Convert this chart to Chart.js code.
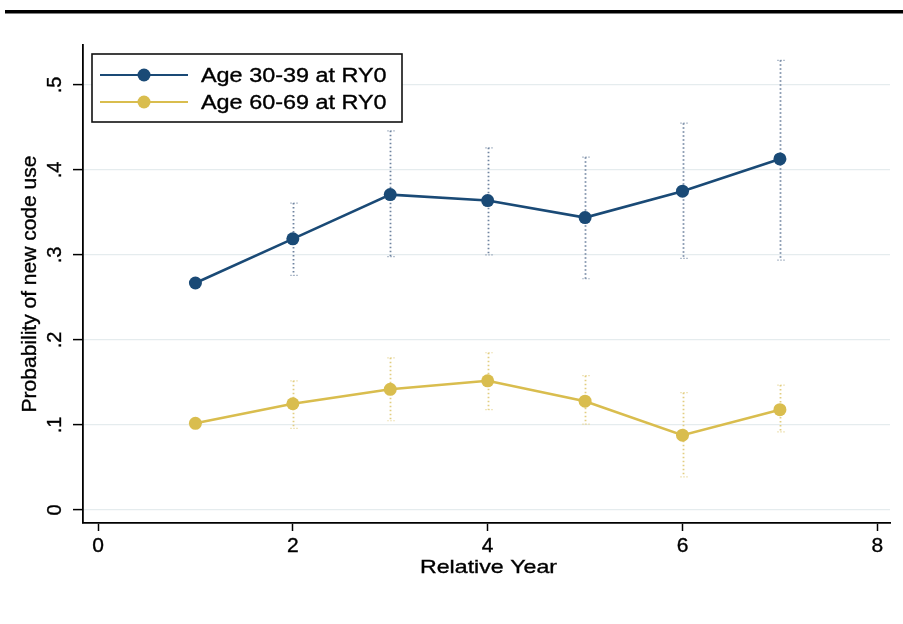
<!DOCTYPE html>
<html>
<head>
<meta charset="utf-8">
<script src="https://cdn.jsdelivr.net/npm/chart.js@4/dist/chart.umd.min.js"></script>
<style>
  html, body { margin: 0; padding: 0; background: #fff; }
  #wrap { width: 903px; height: 624px; }
</style>
</head>
<body>
<div id="wrap"><canvas id="c" width="903" height="624"></canvas></div>
<script>
// Relative year since RY0
const relativeYears = [1, 2, 3, 4, 5, 6, 7];

// Age 30-39 at RY0: point estimates and 95% confidence bounds
const young = [0.267, 0.319, 0.371, 0.364, 0.344, 0.375, 0.413];
const youngLow = [null, 0.276, 0.298, 0.300, 0.272, 0.296, 0.294];
const youngHigh = [null, 0.361, 0.446, 0.426, 0.415, 0.455, 0.529];

// Age 60-69 at RY0: point estimates and 95% confidence bounds
const old = [0.102, 0.125, 0.142, 0.152, 0.128, 0.088, 0.118];
const oldLow = [null, 0.096, 0.105, 0.118, 0.101, 0.039, 0.092];
const oldHigh = [null, 0.152, 0.179, 0.185, 0.158, 0.138, 0.147];

const xTicks = [0, 2, 4, 6, 8];
const xTickLabels = ['0', '2', '4', '6', '8'];
const yTicks = [0, 0.1, 0.2, 0.3, 0.4, 0.5];
const yTickLabels = ['0', '.1', '.2', '.3', '.4', '.5'];
const seriesNames = ['Age 30-39 at RY0', 'Age 60-69 at RY0'];

const NAVY = '#1a4a76';
const SAND = '#d9bd4e';
const NAVY_CI = '#6f84a0';
const SAND_CI = '#e2cd80';
const FONT = '"Liberation Sans", Arial, Helvetica, sans-serif';

function drawText(ctx, text, x, y, size, opts) {
  const o = Object.assign({ sx: 1, rotate: 0, align: 'center' }, opts || {});
  ctx.save();
  ctx.translate(x, y);
  if (o.rotate) ctx.rotate(o.rotate);
  ctx.scale(o.sx, 1);
  ctx.font = size + 'px ' + FONT;
  ctx.textAlign = o.align;
  ctx.textBaseline = 'middle';
  ctx.fillStyle = '#000';
  ctx.strokeStyle = '#000';
  ctx.lineWidth = 0.35;
  ctx.fillText(text, 0, 0);
  ctx.strokeText(text, 0, 0);
  ctx.restore();
}

function toPoints(ys) {
  return relativeYears.map((x, i) => ({ x: x, y: ys[i] }));
}

// White page with the heavy rule across the top
const pagePlugin = {
  id: 'page',
  beforeDraw(chart) {
    const ctx = chart.ctx;
    ctx.save();
    ctx.fillStyle = '#fff';
    ctx.fillRect(0, 0, chart.width, chart.height);
    ctx.fillStyle = '#000';
    ctx.fillRect(5, 10, chart.width - 5, 3.5);
    ctx.restore();
  }
};

// Dotted confidence-interval spikes behind the lines
const ciPlugin = {
  id: 'ci',
  beforeDatasetsDraw(chart) {
    const ctx = chart.ctx;
    const xs = chart.scales.x, ys = chart.scales.y;
    const sets = [[youngLow, youngHigh, NAVY_CI], [oldLow, oldHigh, SAND_CI]];
    ctx.save();
    sets.forEach(([lo, hi, color]) => {
      relativeYears.forEach((yr, i) => {
        if (lo[i] == null || hi[i] == null) return;
        const px = Math.round(xs.getPixelForValue(yr)) + 0.5;
        const y1 = ys.getPixelForValue(hi[i]);
        const y2 = ys.getPixelForValue(lo[i]);
        ctx.strokeStyle = color;
        ctx.lineWidth = 1.8;
        ctx.setLineDash([1.5, 2.5]);
        ctx.beginPath();
        ctx.moveTo(px, y1);
        ctx.lineTo(px, y2);
        ctx.stroke();
        ctx.setLineDash([1, 2]);
        ctx.lineWidth = 1.2;
        [y1, y2].forEach(yy => {
          ctx.beginPath();
          ctx.moveTo(px - 3, yy);
          ctx.lineTo(px + 4, yy);
          ctx.stroke();
        });
      });
    });
    ctx.restore();
  }
};

// Axis labels, titles and the boxed legend
const textPlugin = {
  id: 'texts',
  afterDraw(chart) {
    const ctx = chart.ctx;
    const xs = chart.scales.x, ys = chart.scales.y;
    const area = chart.chartArea;

    xTicks.forEach((v, i) => {
      drawText(ctx, xTickLabels[i], xs.getPixelForValue(v), 546, 20, { sx: 1.05 });
    });
    yTicks.forEach((v, i) => {
      drawText(ctx, yTickLabels[i], 55, ys.getPixelForValue(v), 20, { rotate: -Math.PI / 2 });
    });
    drawText(ctx, 'Relative Year', (area.left + area.right) / 2 + 2, 568, 19, { sx: 1.22 });
    drawText(ctx, 'Probability of new code use', 30, (area.top + area.bottom) / 2, 21, { rotate: -Math.PI / 2 });

    // legend
    const bx = 92, by = 54, bw = 310, bh = 68;
    ctx.save();
    ctx.fillStyle = '#fff';
    ctx.fillRect(bx, by, bw, bh);
    ctx.strokeStyle = '#111';
    ctx.lineWidth = 1.6;
    ctx.strokeRect(bx, by, bw, bh);
    const entries = [[NAVY, 75], [SAND, 102]];
    entries.forEach(([color, yy], k) => {
      ctx.strokeStyle = color;
      ctx.lineWidth = 2.2;
      ctx.beginPath();
      ctx.moveTo(100, yy);
      ctx.lineTo(188, yy);
      ctx.stroke();
      ctx.fillStyle = color;
      ctx.beginPath();
      ctx.arc(144, yy, 6.5, 0, Math.PI * 2);
      ctx.fill();
      drawText(ctx, seriesNames[k], 201, yy + 1, 20, { sx: 1.17, align: 'left' });
    });
    ctx.restore();
  }
};

new Chart(document.getElementById('c'), {
  type: 'line',
  data: {
    datasets: [
      {
        label: seriesNames[0],
        data: toPoints(young),
        borderColor: NAVY,
        backgroundColor: NAVY,
        borderWidth: 2.6,
        pointRadius: 6.5,
        pointBorderWidth: 0,
        pointBackgroundColor: NAVY,
        tension: 0
      },
      {
        label: seriesNames[1],
        data: toPoints(old),
        borderColor: SAND,
        backgroundColor: SAND,
        borderWidth: 2.6,
        pointRadius: 6.5,
        pointBorderWidth: 0,
        pointBackgroundColor: SAND,
        tension: 0
      }
    ]
  },
  options: {
    responsive: false,
    animation: false,
    devicePixelRatio: 1,
    layout: { padding: { left: 0, right: 13, top: 45, bottom: 0 } },
    plugins: {
      legend: { display: false },
      tooltip: { enabled: false }
    },
    scales: {
      x: {
        type: 'linear',
        min: -0.154,
        max: 8.13,
        afterBuildTicks(scale) { scale.ticks = xTicks.map(v => ({ value: v })); },
        afterFit(scale) { scale.height = 101; },
        ticks: { display: false },
        grid: {
          drawOnChartArea: false,
          drawTicks: true,
          tickLength: 8,
          tickColor: '#000',
          tickWidth: 1.5
        },
        border: { display: true, color: '#000', width: 1.8 }
      },
      y: {
        type: 'linear',
        min: -0.0153,
        max: 0.547,
        afterBuildTicks(scale) { scale.ticks = yTicks.map(v => ({ value: v })); },
        afterFit(scale) { scale.width = 83; },
        ticks: { display: false },
        grid: {
          color: '#e5ecee',
          lineWidth: 1.2,
          drawTicks: true,
          tickLength: 10,
          tickColor: '#000',
          tickWidth: 1.5
        },
        border: { display: true, color: '#000', width: 1.8 }
      }
    }
  },
  plugins: [pagePlugin, ciPlugin, textPlugin]
});
</script>
</body>
</html>
